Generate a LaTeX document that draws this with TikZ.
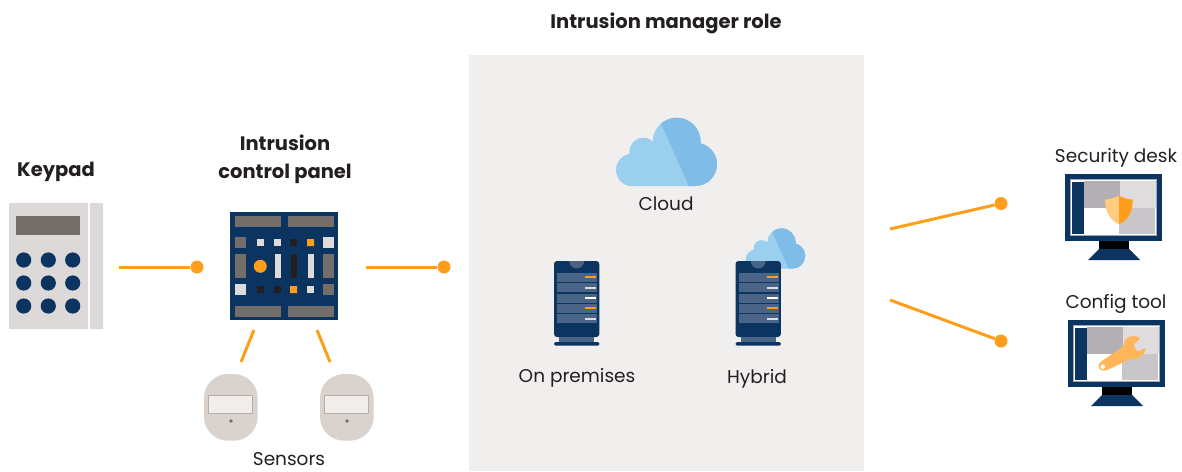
\documentclass[tikz,border=0pt]{standalone}
\usepackage{fontspec}
\setmainfont{Poppins}
\definecolor{navy}{HTML}{0B3560}
\definecolor{linkorange}{HTML}{FF9E1B}
\definecolor{keypadgrey}{HTML}{DCD9D8}
\definecolor{darkgrey}{HTML}{736E6A}
\definecolor{lightgrey}{HTML}{DEDBDB}
\definecolor{blackish}{HTML}{231F20}
\definecolor{sensorgrey}{HTML}{D9D2CD}
\definecolor{windowgrey}{HTML}{F1EDEB}
\definecolor{windowline}{HTML}{B5AEAA}
\definecolor{roomgrey}{HTML}{F1EFEE}
\definecolor{cloudlight}{HTML}{9BCFEE}
\definecolor{clouddark}{HTML}{80BCE8}
\definecolor{shelfblue}{HTML}{4A6488}
\definecolor{screentl}{HTML}{B2B0B2}
\definecolor{screentr}{HTML}{DFDCDE}
\definecolor{screenbr}{HTML}{C8C6C8}
\definecolor{screenline}{HTML}{A0A8B5}
\definecolor{shieldlight}{HTML}{FFCC80}
\definecolor{wrenchorange}{HTML}{FFB65A}
\tikzset{
	labeltext/.style={font=\fontsize{18.5}{28}\selectfont,inner sep=0pt,align=center,text=blackish},
	headtext/.style={labeltext,font=\fontsize{19.5}{28}\selectfont\bfseries},
	link/.style={draw=linkorange,line width=3pt},
	linkdot/.style={circle,fill=linkorange,inner sep=0pt,minimum size=13pt},
	cloudicon/.pic={
		\def\lobes{(-34.2,18.15) circle [radius=16.3] (-23.2,-0.15) circle [radius=14]
			(10.2,-10.15) circle [radius=24] (28.8,12.45) circle [radius=21.7]
			(29,-5) rectangle (-34,34.15)}
		\fill [cloudlight] \lobes;
		\begin{scope}
			\clip (-12,-43)--(25,40)--(60,40)--(60,-43)--cycle;
			\fill [clouddark] \lobes;
		\end{scope}
	},
	servericon/.pic={
		\fill [navy, rounded corners=3pt] (-22.7,0) rectangle (22.6,76);
		\fill [shelfblue] (-7.4,0) arc [start angle=180, end angle=0, radius=7.4]--cycle;
		\foreach \ya/\yb in {12/21, 22/31, 33/42, 43/52, 53/62} \fill [shelfblue] (-19.7,\ya) rectangle (20.3,\yb);
		\foreach \ya/\col in {15/linkorange, 26/lightgrey, 36/white, 46/linkorange, 57/lightgrey} \fill [\col] (8.3,\ya) rectangle (19.3,\ya+2);
		\fill [shelfblue] (-17.7,76) rectangle (17.3,81);
		\fill [navy, rounded corners=1.5pt] (-22.7,81) rectangle (22.6,84.7);
	},
	monitoricon/.pic={
		\fill [navy] (1065,174) rectangle (1162,241);
		\fill [white] (1070,179) rectangle (1157.3,236);
		\draw [color=screenline, line width=1.2pt] (1070.5,179.5) rectangle (1156.8,235.5);
		\fill [navy] (1072,182) rectangle (1084,234);
		\fill [screentl] (1084,181) rectangle (1120,208);
		\fill [screentr] (1120,181) rectangle (1156,208);
		\fill [screenbr] (1119,208) rectangle (1155,234);
		\fill [black] (1099,241) rectangle (1129,249);
		\fill [navy] (1099,249)--(1129,249)--(1140,260)--(1088,260)--cycle;
	}
}
\begin{document}
\begin{tikzpicture}[x=1pt,y=-1pt,line join=round]
	\useasboundingbox (0,0) rectangle (1182,471);
	% room
	\fill [roomgrey] (469,55) rectangle (864,471);
	%
	% keypad
	\fill [keypadgrey] (9,203) rectangle (88,329) (90,203) rectangle (103,329);
	\fill [darkgrey] (16,216) rectangle (80,235);
	\foreach \x in {23.7,48.3,72.7}
		\foreach \y in {260,283,306}
			\fill [navy] (\x,\y) circle [radius=7.6];
	%
	% control panel
	\fill [navy] (230,212) rectangle (338,320);
	\foreach \xa/\ya/\xb/\yb in {235/216/281/227, 288/216/334/227, 235/306/281/317, 288/306/334/317,
		235/237/246/248, 235/254/246/278, 323/254/334/278, 323/284/334/295}
		\fill [darkgrey] (\xa,\ya) rectangle (\xb,\yb);
	\foreach \xa/\ya/\xb/\yb in {257/239/264/246, 274/239/281/246, 323/237/334/248, 275/254/281/278,
		308/254/314/278, 235/284/246/295, 307/286/314/293}
		\fill [lightgrey] (\xa,\ya) rectangle (\xb,\yb);
	\foreach \xa/\ya/\xb/\yb in {290/239/297/246, 291/254/297/278, 257/286/264/293, 274/286/281/293}
		\fill [blackish] (\xa,\ya) rectangle (\xb,\yb);
	\fill [linkorange] (307,239) rectangle (314,246) (290,286) rectangle (297,293) (260.3,266.3) circle [radius=6.5];
	%
	% sensors
	\foreach \x in {0,116} {
		\fill [sensorgrey, rounded corners=24pt] (204+\x,374) rectangle (257.7+\x,440.7);
		\fill [windowgrey, draw=windowline, line width=1pt] (208.5+\x,395.5) rectangle (252.5+\x,413.5);
		\fill [darkgrey] (231+\x,421) circle [radius=1.9];
	}
	%
	% clouds and servers
	\pic at (666.5,151.85) {cloudicon};
	\pic [scale=0.59] at (775.5,248.5) {cloudicon};
	\pic at (576.7,261) {servericon};
	\pic at (758.2,261) {servericon};
	%
	% monitors
	\pic at (0,0) {monitoricon};
	\pic at (3,146) {monitoricon};
	\fill [shieldlight] (1119,195.7) .. controls (1112,199) and (1108,199.5) .. (1105,199.5) .. controls (1105,212) and (1110,220) .. (1119,224.3)--cycle;
	\fill [linkorange] (1119,195.7) .. controls (1126,199) and (1130,199.5) .. (1132.7,199.5) .. controls (1132.7,212) and (1128,220) .. (1119,224.3)--cycle;
	\fill [wrenchorange, rounded corners=1.5pt] (1100,362.3)--(1124,346)--(1124,341.7)--(1128.3,336.7)--(1136,336)--(1140.7,338.3)--(1133.3,345)--(1137.3,351.7)--(1146,347.7)--(1143.3,355)--(1137.3,358.7)--(1130,359)--(1106,370.7)--(1100,370)--(1098,366)--cycle;
	\fill [white] (1102.7,366.7) circle [radius=2.3];
	%
	% texts
	\node [headtext] (keypadlabel) at (56,172) {Keypad};
	\node [headtext] (panellabel) at (285,159) {Intrusion\\control panel};
	\node [headtext] (rolelabel) at (666,23) {Intrusion manager role};
	\node [labeltext] (sensorslabel) at (289,459.5) {Sensors};
	\node [labeltext] (cloudlabel) at (666,204) {Cloud};
	\node [labeltext] (premiseslabel) at (577,378) {On premises};
	\node [labeltext] (hybridlabel) at (757,379) {Hybrid};
	\node [labeltext] (desklabel) at (1116,158) {Security desk};
	\node [labeltext] (toollabel) at (1116,304) {Config tool};
	%
	% connectors
	\coordinate (keypadend) at (119,267);
	\coordinate (panelend) at (366,267);
	\coordinate (deskend) at (890,229);
	\coordinate (toolend) at (890,300);
	\coordinate (sensorlefttop) at (254,330);
	\coordinate (sensorleftend) at (241,362);
	\coordinate (sensorrighttop) at (317,330);
	\coordinate (sensorrightend) at (330,362);
	\node [linkdot] (keypaddot) at (197,267) {};
	\node [linkdot] (paneldot) at (444,267) {};
	\node [linkdot] (deskdot) at (1001,203.5) {};
	\node [linkdot] (tooldot) at (1001,341) {};
	\draw [link] (keypadend)--(keypaddot);
	\draw [link] (panelend)--(paneldot);
	\draw [link] (deskend)--(deskdot);
	\draw [link] (toolend)--(tooldot);
	\draw [link] (sensorlefttop)--(sensorleftend);
	\draw [link] (sensorrighttop)--(sensorrightend);
\end{tikzpicture}
\end{document}
